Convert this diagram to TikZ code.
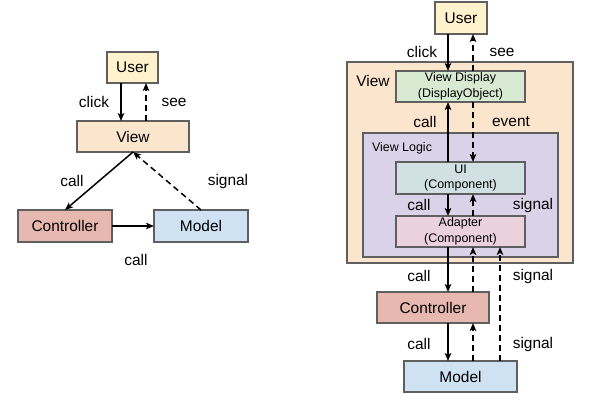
\documentclass[tikz,border=0pt]{standalone}
\usepackage{fontspec}
\setmainfont{Liberation Sans}
\usetikzlibrary{arrows.meta,calc}
\definecolor{cuser}{HTML}{FFF2CC}
\definecolor{cview}{HTML}{FCE5CD}
\definecolor{cctrl}{HTML}{E6B8AF}
\definecolor{cmodel}{HTML}{CFE2F3}
\definecolor{cdisp}{HTML}{D9EAD3}
\definecolor{clogic}{HTML}{D9D2E9}
\definecolor{cui}{HTML}{D0E0E3}
\definecolor{cadapt}{HTML}{EAD1DC}
\definecolor{cborder}{HTML}{5F5F5F}
\tikzset{
  bigtext/.style={font=\fontsize{15.5}{18}\selectfont},
  smalltext/.style={font=\fontsize{12.5}{16}\selectfont},
  box/.style={draw=cborder, line width=1.1bp, inner sep=0pt, outer sep=0pt, align=center},
  lbl/.style={bigtext, inner sep=0pt},
  solidarrow/.style={-{Stealth[length=8bp,width=6.5bp,inset=2bp]}, line width=1.5bp, black},
  dasharrow/.style={solidarrow, dash pattern=on 6bp off 4bp},
}
\begin{document}
\begin{tikzpicture}[x=1bp,y=-1bp]
\useasboundingbox (0,0) rectangle (594,403);
% ---------- Left diagram ----------
\node[box, bigtext, fill=cuser, minimum width=51bp, minimum height=31bp] (u1) at (132.5,67.5) {User};
\node[box, bigtext, fill=cview, minimum width=112bp, minimum height=31bp] (v1) at (133,136.5) {View};
\node[box, bigtext, fill=cctrl, minimum width=94bp, minimum height=32bp] (c1) at (65,226) {Controller};
\node[box, bigtext, fill=cmodel, minimum width=94bp, minimum height=32bp] (m1) at (201,226) {Model};
\coordinate (lx1) at (121,0);
\coordinate (lx2) at (146,0);
\draw[solidarrow] (u1.south -| lx1) -- (v1.north -| lx1);
\draw[dasharrow] (v1.north -| lx2) -- (u1.south -| lx2);
\draw[solidarrow] (v1.south) -- (c1.north);
\draw[dasharrow] (m1.north) -- (v1.south);
\draw[solidarrow] (c1.east) -- (m1.west);
\node[lbl] (l1) at (94,102) {click};
\node[lbl] (l2) at (174,102) {see};
\node[lbl] (l3) at (72,181) {call};
\node[lbl] (l4) at (228,181) {signal};
\node[lbl] (l5) at (136,260) {call};
% ---------- Right diagram ----------
\node[box, bigtext, fill=cuser, minimum width=52bp, minimum height=32bp] (u2) at (461,18) {User};
\node[box, fill=cview, minimum width=226bp, minimum height=201bp] (v2) at (460,162.5) {};
\node[lbl, anchor=center] (v2t) at (373,81) {View};
\node[box, smalltext, fill=cdisp, minimum width=129bp, minimum height=31bp] (vd) at (460.5,86.5) {View Display\\(DisplayObject)};
\node[box, fill=clogic, minimum width=195bp, minimum height=124bp] (vl) at (460.5,195) {};
\node[smalltext, inner sep=0pt] (vlt) at (402,148) {View Logic};
\node[box, smalltext, fill=cui, minimum width=129bp, minimum height=32bp] (ui) at (460.5,178) {UI\\(Component)};
\node[box, smalltext, fill=cadapt, minimum width=129bp, minimum height=31bp] (ad) at (460.5,231.5) {Adapter\\(Component)};
\node[box, bigtext, fill=cctrl, minimum width=112bp, minimum height=31bp] (c2) at (433,307.5) {Controller};
\node[box, bigtext, fill=cmodel, minimum width=113bp, minimum height=31bp] (m2) at (460.5,376.5) {Model};
\coordinate (xL) at (448,0);
\coordinate (xR) at (473,0);
\coordinate (xS) at (500,0);
\draw[solidarrow] (u2.south -| xL) -- (vd.north -| xL);
\draw[dasharrow] (vd.north -| xR) -- (u2.south -| xR);
\draw[solidarrow] (ui.north -| xL) -- (vd.south -| xL);
\draw[dasharrow] (vd.south -| xR) -- (ui.north -| xR);
\draw[solidarrow] (ui.south -| xL) -- (ad.north -| xL);
\draw[dasharrow] (ad.north -| xR) -- (ui.south -| xR);
\draw[solidarrow] (ad.south -| xL) -- (c2.north -| xL);
\draw[dasharrow] (c2.north -| xR) -- (ad.south -| xR);
\draw[dasharrow] (m2.north -| xS) -- (ad.south -| xS);
\draw[solidarrow] (c2.south -| xL) -- (m2.north -| xL);
\draw[dasharrow] (m2.north -| xR) -- (c2.south -| xR);
\node[lbl] (r1) at (422,52) {click};
\node[lbl] (r2) at (502,52) {see};
\node[lbl] (r3) at (425,122) {call};
\node[lbl] (r4) at (511,122) {event};
\node[lbl] (r5) at (419,205) {call};
\node[lbl] (r6) at (533,205) {signal};
\node[lbl] (r7) at (419,276) {call};
\node[lbl] (r8) at (533,276) {signal};
\node[lbl] (r9) at (419,344) {call};
\node[lbl] (r10) at (533,344) {signal};
\end{tikzpicture}
\end{document}
